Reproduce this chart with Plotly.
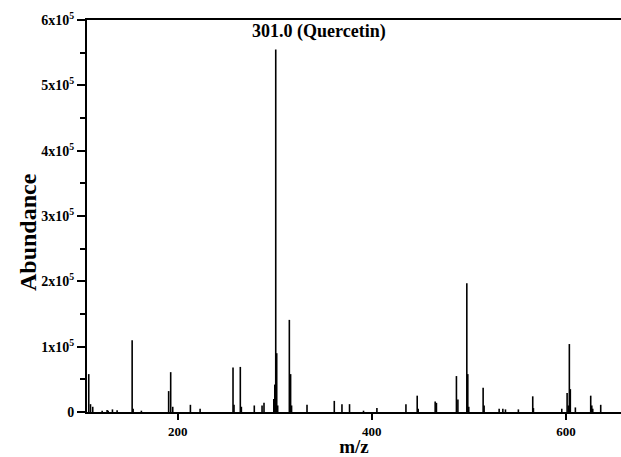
import plotly.graph_objects as go

# Stick spectrum: m/z positions and abundances
mz = [108.4, 110.2, 112.5, 122.2, 127.3, 128.4, 132.8, 137.6,
      153.1, 154.1, 162.6, 190.7, 192.8, 194.9, 213.1, 223.1,
      257.0, 258.0, 264.5, 265.6, 278.9, 286.9, 288.9,
      299.0, 300.0, 301.0, 302.0, 303.0,
      315.0, 316.3, 317.3, 333.2, 361.3, 369.2, 377.0, 391.4, 405.2,
      435.1, 446.7, 447.7, 465.2, 466.5, 487.1, 488.6,
      497.8, 498.8, 499.8, 514.6, 515.6, 531.1, 534.9, 537.6, 550.9,
      565.7, 566.4, 595.6, 601.1, 602.4, 603.4, 604.4, 609.6,
      625.4, 626.5, 627.5, 635.7]
abundance = [58000, 12000, 8000, 2000, 3000, 2000, 4000, 2500,
             110000, 5000, 2000, 32000, 61000, 8000, 11000, 5000,
             68000, 11000, 69000, 8000, 10000, 10000, 14000,
             20000, 42000, 555000, 90000, 10000,
             141000, 58000, 10000, 11000, 17000, 12000, 12000, 2000, 6000,
             12000, 25000, 5000, 16000, 14000, 55000, 19000,
             197000, 58000, 8000, 37000, 10000, 5000, 5000, 4000, 4000,
             24000, 6000, 5000, 29000, 10000, 104000, 35000, 7000,
             25000, 10000, 5000, 11000]

y_tick_vals = [0, 100000, 200000, 300000, 400000, 500000, 600000]
y_tick_text = ["0", "1x10<sup>5</sup>", "2x10<sup>5</sup>", "3x10<sup>5</sup>",
               "4x10<sup>5</sup>", "5x10<sup>5</sup>", "6x10<sup>5</sup>"]
x_tick_vals = [200, 400, 600]
annotation_text = "301.0 (Quercetin)"
x_title = "m/z"
y_title = "Abundance"

xs, ys = [], []
for m, a in zip(mz, abundance):
    xs += [m, m, None]
    ys += [0, a, None]

FONT = "Liberation Serif"

fig = go.Figure()
fig.add_trace(go.Scatter(x=xs, y=ys, mode="lines",
                         line=dict(color="black", width=1.6),
                         hoverinfo="skip", showlegend=False))

fig.add_annotation(x=274.8, y=583000, xref="x", yref="y", text=annotation_text,
                   showarrow=False, xanchor="left", yanchor="middle",
                   font=dict(family=FONT, size=18, color="black", weight="bold"))

# y-axis title placed as a rotated annotation
fig.add_annotation(x=28, y=232, xref="paper", yref="paper", text=y_title,
                   showarrow=False, textangle=-90, xanchor="center", yanchor="middle",
                   font=dict(family=FONT, size=24, color="black", weight="bold"))

fig.update_layout(
    width=621, height=457,
    margin=dict(l=87, r=0, t=20, b=45),
    paper_bgcolor="white", plot_bgcolor="white",
    font=dict(family=FONT, color="black"),
    xaxis=dict(range=[106.6, 656.6], showgrid=False, zeroline=False,
               showline=True, linecolor="black", linewidth=2, mirror=True,
               ticks="outside", ticklen=6, tickwidth=1.5, tickcolor="black",
               tickvals=x_tick_vals,
               tickfont=dict(family=FONT, size=13, color="black", weight="bold"),
               title=dict(text=x_title, standoff=5,
                          font=dict(family=FONT, size=19, color="black", weight="bold"))),
    yaxis=dict(range=[0, 600000], showgrid=False, zeroline=False,
               showline=True, linecolor="black", linewidth=2,
               ticks="outside", ticklen=8, tickwidth=1.5, tickcolor="black",
               tickvals=y_tick_vals, ticktext=y_tick_text,
               minor=dict(ticks="outside", ticklen=5, tickwidth=1.5,
                          tickcolor="black", dtick=50000, showgrid=False),
               tickfont=dict(family=FONT, size=14, color="black", weight="bold")),
)

# convert the paper-fraction placement of the y title from pixel values
plot_h = 457 - 20 - 45
plot_w = 621 - 87 - 0
fig.layout.annotations[1].x = (28 - 87) / plot_w
fig.layout.annotations[1].y = (457 - 45 - 232) / plot_h

fig.write_html("out.html", config={"displayModeBar": False},
               post_script="document.body.style.margin='0';document.body.style.overflow='hidden';")
